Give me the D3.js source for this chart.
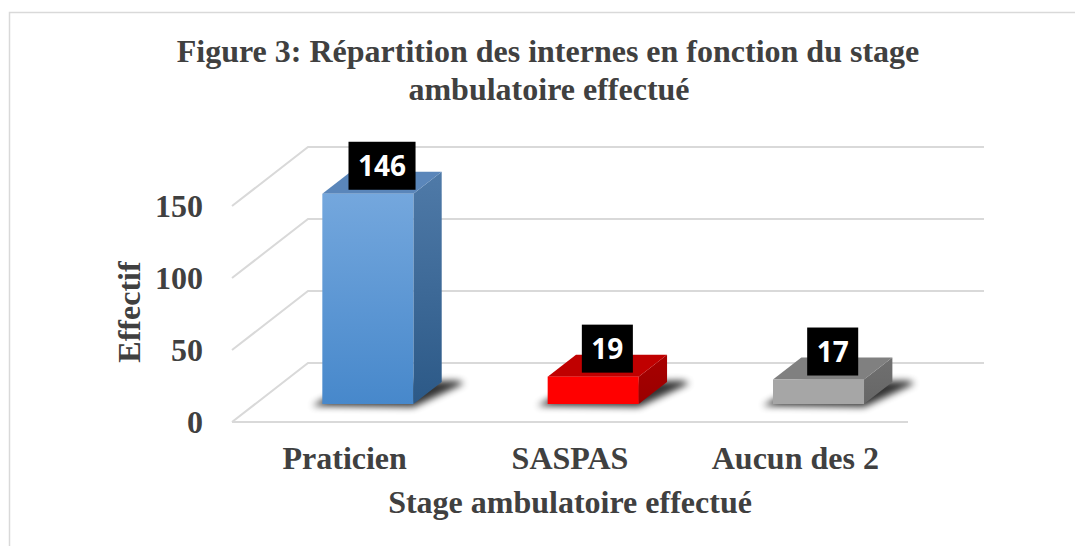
<!DOCTYPE html>
<html>
<head>
<meta charset="utf-8">
<script src="https://cdn.jsdelivr.net/npm/d3@7"></script>
<style>
  html, body { margin: 0; padding: 0; background: #ffffff; }
  svg { display: block; }
</style>
</head>
<body>
<svg id="chart" width="1075" height="546"></svg>
<script>
// ---- data ----
const categories = ["Praticien", "SASPAS", "Aucun des 2"];
const values = [146, 19, 17];
const tickValues = [0, 50, 100, 150];
const titleLines = ["Figure 3: Répartition des internes en fonction du stage", "ambulatoire effectué"];
const xTitle = "Stage ambulatoire effectué";
const yTitle = "Effectif";

// ---- styles ----
const palettes = [
  { frontTop: "#74a7dd", frontBot: "#4788cb", sideTop: "#4f7aa8", sideBot: "#2c5987", top: "#5a86ba" },
  { frontTop: "#ff0000", frontBot: "#ff0000", sideTop: "#a80000", sideBot: "#9a0000", top: "#c00000" },
  { frontTop: "#a6a6a6", frontBot: "#a6a6a6", sideTop: "#707070", sideBot: "#666666", top: "#808080" }
];
const textColor = "#404040";
const gridColor = "#d9d9d9";
const serif = "'Liberation Serif', 'Times New Roman', serif";

const svg = d3.select("#chart");

// chart border
svg.append("rect").attr("x", 9.5).attr("y", 12.5).attr("width", 1100).attr("height", 600)
  .attr("fill", "none").attr("stroke", gridColor).attr("stroke-width", 1.5);

// ---- geometry ----
const floorY = 422;
const depth = { dx: 76, dy: -59 };
const x = d3.scaleBand().domain(categories).range([232, 908]).paddingInner(0.596).paddingOuter(0.298);
const h = d3.scaleLinear().domain([0, 150]).range([0, 216]);
const yFront = d3.scaleLinear().domain([0, 150]).range([floorY, floorY - 216]);
const z0 = 0.305, z1 = 0.678;
function P(xf, v, z) { return [xf + z * depth.dx, floorY - h(v) + z * depth.dy]; }
const line = d3.line();

// defs
const defs = svg.append("defs");
const blur = defs.append("filter").attr("id", "shadowBlur").attr("x", "-50%").attr("y", "-50%").attr("width", "200%").attr("height", "200%");
blur.append("feGaussianBlur").attr("stdDeviation", 3.5);
palettes.forEach((p, i) => {
  const gf = defs.append("linearGradient").attr("id", "front" + i).attr("x1", 0).attr("y1", 0).attr("x2", 0).attr("y2", 1);
  gf.append("stop").attr("offset", "0%").attr("stop-color", p.frontTop);
  gf.append("stop").attr("offset", "100%").attr("stop-color", p.frontBot);
  const gs = defs.append("linearGradient").attr("id", "side" + i).attr("x1", 0).attr("y1", 0).attr("x2", 0).attr("y2", 1);
  gs.append("stop").attr("offset", "0%").attr("stop-color", p.sideTop);
  gs.append("stop").attr("offset", "100%").attr("stop-color", p.sideBot);
});

// ---- gridlines (left wall + back wall) ----
const grid = svg.append("g").attr("stroke", gridColor).attr("stroke-width", 2).attr("fill", "none");
const x0 = 232, xEnd = 908;
tickValues.forEach(v => {
  const a = P(x0, v, 0), b = P(x0, v, 1), c = P(xEnd, v, 1);
  grid.append("path").attr("d", line([a, b, c]));
});
// front floor edge
grid.append("path").attr("d", line([P(x0, 0, 0), P(xEnd, 0, 0)]));

// ---- bars ----
const bars = svg.append("g");
categories.forEach((cat, i) => {
  const v = values[i];
  const xl = x(cat), xr = x(cat) + x.bandwidth();
  // shadow
  bars.append("path")
    .attr("d", line([P(xl - 8, 0, z0 - 0.03), P(xr + 4, 0, z0 - 0.05), P(xr + 24, 0, z1 - 0.02), P(xr + 14, 0, z1 + 0.02), P(xl + 4, 0, z1)]) + "Z")
    .attr("fill", "#000").attr("opacity", 0.8).attr("filter", "url(#shadowBlur)");
  // side
  bars.append("path")
    .attr("d", line([P(xr, 0, z0), P(xr, 0, z1), P(xr, v, z1), P(xr, v, z0)]) + "Z")
    .attr("fill", `url(#side${i})`);
  // top
  bars.append("path")
    .attr("d", line([P(xl, v, z0), P(xr, v, z0), P(xr, v, z1), P(xl, v, z1)]) + "Z")
    .attr("fill", palettes[i].top);
  // front
  const f0 = P(xl, v, z0), f1 = P(xr, 0, z0);
  bars.append("rect")
    .attr("x", f0[0]).attr("y", f0[1]).attr("width", f1[0] - f0[0]).attr("height", f1[1] - f0[1])
    .attr("fill", `url(#front${i})`);
});

// ---- data labels ----
const labels = svg.append("g");
categories.forEach((cat, i) => {
  const v = values[i];
  const cx = x(cat) + x.bandwidth() / 2;
  const mid = P(cx, v, (z0 + z1) / 2);
  const cy = mid[1] - 17;
  const g = labels.append("g");
  const t = g.append("text")
    .attr("x", mid[0]).attr("y", cy + 10)
    .attr("text-anchor", "middle")
    .attr("font-family", "'Open Sans', 'Noto Sans', sans-serif")
    .attr("font-weight", 700).attr("font-size", 28).attr("fill", "#ffffff")
    .text(v);
  const w = t.node().getComputedTextLength() + 19;
  g.insert("rect", "text").attr("x", mid[0] - w / 2).attr("y", cy - 24).attr("width", w).attr("height", 48).attr("fill", "#000");
});

// ---- y axis tick labels ----
const yAxis = d3.axisLeft(yFront).tickValues(tickValues).tickSize(0).tickPadding(0).tickFormat(d3.format("d"));
const ya = svg.append("g").attr("transform", "translate(203,0)").call(yAxis);
ya.select(".domain").remove();
ya.selectAll("text").attr("font-family", serif).attr("font-weight", 700).attr("font-size", 32).attr("fill", textColor);

// ---- category labels ----
const xAxis = d3.axisBottom(x).tickSize(0).tickPadding(0);
const xa = svg.append("g").attr("transform", "translate(0,0)").call(xAxis);
xa.select(".domain").remove();
xa.selectAll(".tick").attr("transform", d => `translate(${x(d) + x.bandwidth() / 2},0)`);
xa.selectAll("text").attr("y", 469).attr("dy", null)
  .attr("font-family", serif).attr("font-weight", 700).attr("font-size", 32).attr("fill", textColor);

// ---- titles ----
svg.append("text").attr("x", 548).attr("y", 62).attr("text-anchor", "middle")
  .attr("font-family", serif).attr("font-weight", 700).attr("font-size", 32).attr("fill", textColor)
  .text(titleLines[0]);
svg.append("text").attr("x", 549).attr("y", 100).attr("text-anchor", "middle")
  .attr("font-family", serif).attr("font-weight", 700).attr("font-size", 32).attr("fill", textColor)
  .text(titleLines[1]);
svg.append("text").attr("x", 570).attr("y", 513).attr("text-anchor", "middle")
  .attr("font-family", serif).attr("font-weight", 700).attr("font-size", 32).attr("fill", textColor)
  .text(xTitle);
svg.append("text").attr("transform", "translate(140,312) rotate(-90)").attr("text-anchor", "middle")
  .attr("font-family", serif).attr("font-weight", 700).attr("font-size", 32).attr("fill", textColor)
  .text(yTitle);
</script>
</body>
</html>
